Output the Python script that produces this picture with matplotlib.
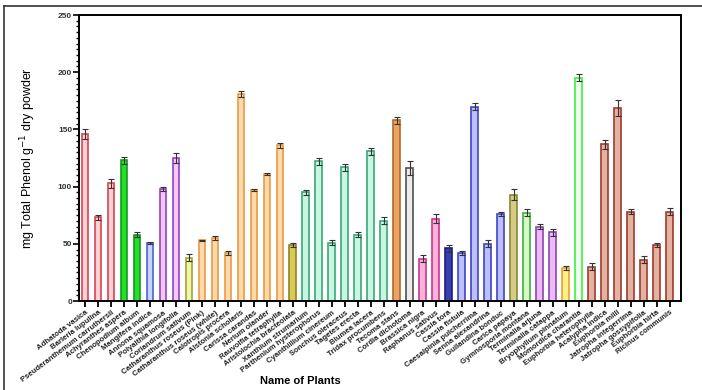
import numpy as np
import matplotlib
matplotlib.use("Agg")
import matplotlib.pyplot as plt
from matplotlib.lines import Line2D
from matplotlib.ticker import MultipleLocator

plt.rcParams['font.family'] = ['Liberation Sans', 'DejaVu Sans']

plants = [
    "Adhatoda vasica", "Barleria lupulina", "Pseuderanthemum carruthersii",
    "Achyranthes aspera", "Chenopodium album", "Mangifera indica",
    "Annona squamosa", "Polyalthia longifolia", "Coriandrum sativum",
    "Catharanthus roseus (Pink)", "Catharanthus roseus (white)",
    "Calotropis procera", "Alstonia scholaris", "Carissa carandas",
    "Nerium olander", "Rauvolfia tetraphylla", "Aristolochia bracteolata",
    "Xanthium strumarium", "Parthenium hysterophorus", "Cyanthillium cinereum",
    "Sonchus oleraceus", "Tagetes erecta", "Blumea lacera",
    "Tridax procumbens", "Tecoma stans", "Cordia dichotoma",
    "Brassica nigra", "Raphanus sativus", "Cassia tora", "Cassia fistula",
    "Caesalpinia pulcherrima", "Senna alexandrina", "Guilandina bonduc",
    "Carica papaya", "Gymnosporia montana", "Terminalia arjuna",
    "Terminalia catappa", "Bryophyllum pinnatum", "Momordica charantia",
    "Euphorbia heterophylla", "Acalypha indica", "Euphorbia milli",
    "Jatropha integerrima", "Jatropha gossypifolia", "Euphorbia hirta",
    "Ricinus communis",
]

phenol = [
    146, 73, 103, 123, 58, 51, 98, 125, 38, 53, 55, 42, 181, 97, 111, 136,
    49, 95, 122, 51, 117, 58, 131, 70, 158, 116, 37, 72, 46, 42, 170, 50,
    76, 93, 77, 65, 60, 29, 195, 30, 137, 169, 78, 36, 49, 78,
]

err = [
    4, 2, 4, 3, 2, 1, 2, 4, 3, 0.5, 2, 2, 3, 1, 1, 2,
    2, 2, 3, 2, 3, 2, 3, 3, 3, 6, 3, 4, 3, 2, 3, 3,
    2, 5, 3, 2, 3, 2, 3, 3, 4, 7, 2, 3, 2, 3,
]

# (fill, edge, how many bars)
groups = [
    ("#fad2d6", "#d9444f", 3),
    ("#22e02a", "#149a1a", 2),
    ("#c9d3f7", "#4a64d4", 1),
    ("#f2c8f7", "#9a3fbf", 2),
    ("#f1f7a8", "#a3a334", 1),
    ("#fdd9ab", "#e99b44", 7),
    ("#d9cb52", "#8f8424", 1),
    ("#c8f6e0", "#38a878", 7),
    ("#eba463", "#b06a2a", 1),
    ("#ececec", "#505050", 1),
    ("#f9b3db", "#cf3489", 2),
    ("#3a3fb0", "#1a1f80", 1),
    ("#bcbff9", "#3e45c4", 4),
    ("#d3cb86", "#8c852f", 1),
    ("#d6f9c6", "#3fb03f", 1),
    ("#ebbcf4", "#9242b4", 2),
    ("#fff088", "#e8a033", 1),
    ("#effff0", "#3ef03e", 1),
    ("#e3b3a2", "#a2392f", 7),
]
fills, edges = [], []
for f, e, n in groups:
    fills += [f] * n
    edges += [e] * n

fig = plt.figure(figsize=(7.02, 3.9), dpi=100)
ax = fig.add_axes([79 / 702, 89 / 390, 602 / 702, 286 / 390])

x = np.arange(len(plants))
ax.bar(x, phenol, width=0.52, color=fills, edgecolor=edges, linewidth=1.2, zorder=2)
ax.errorbar(x, phenol, yerr=err, fmt="none", ecolor="#333333",
            elinewidth=0.8, capsize=2.5, capthick=0.8, zorder=3)

ax.set_xlim(-0.46, len(plants) - 1 + 0.87)
ax.set_ylim(0, 250)
ax.yaxis.set_major_locator(MultipleLocator(50))
ax.yaxis.set_minor_locator(MultipleLocator(5))
ax.set_xticks(x)
ax.set_xticklabels(plants, rotation=37, ha="right", rotation_mode="anchor",
                   fontsize=5.6, fontweight="bold", color="#222222")
for lab in ax.get_yticklabels():
    lab.set_fontsize(6)
    lab.set_fontweight("bold")
    lab.set_color("#333333")

ax.tick_params(axis="x", direction="out", length=4, width=1.3, pad=2)
ax.tick_params(axis="y", which="major", direction="out", length=4, width=1.2, pad=1)
ax.tick_params(axis="y", which="minor", direction="out", length=2.5, width=1.0)
for s in ax.spines.values():
    s.set_linewidth(1.4)

ax.set_ylabel("mg Total Phenol g$^{-1}$ dry powder", fontsize=9, labelpad=14)
fig.text(300 / 702, 9 / 390, "Name of Plants", fontsize=8, fontweight="bold",
         ha="center", va="center")

# outer frame (top and left)
fig.add_artist(Line2D([4 / 702, 1], [1 - 6 / 390, 1 - 6 / 390],
                      transform=fig.transFigure, color="#333333", linewidth=1.2))
fig.add_artist(Line2D([4 / 702, 4 / 702], [0, 1 - 6 / 390],
                      transform=fig.transFigure, color="#333333", linewidth=1.2))

fig.savefig("out.png", dpi=100)
